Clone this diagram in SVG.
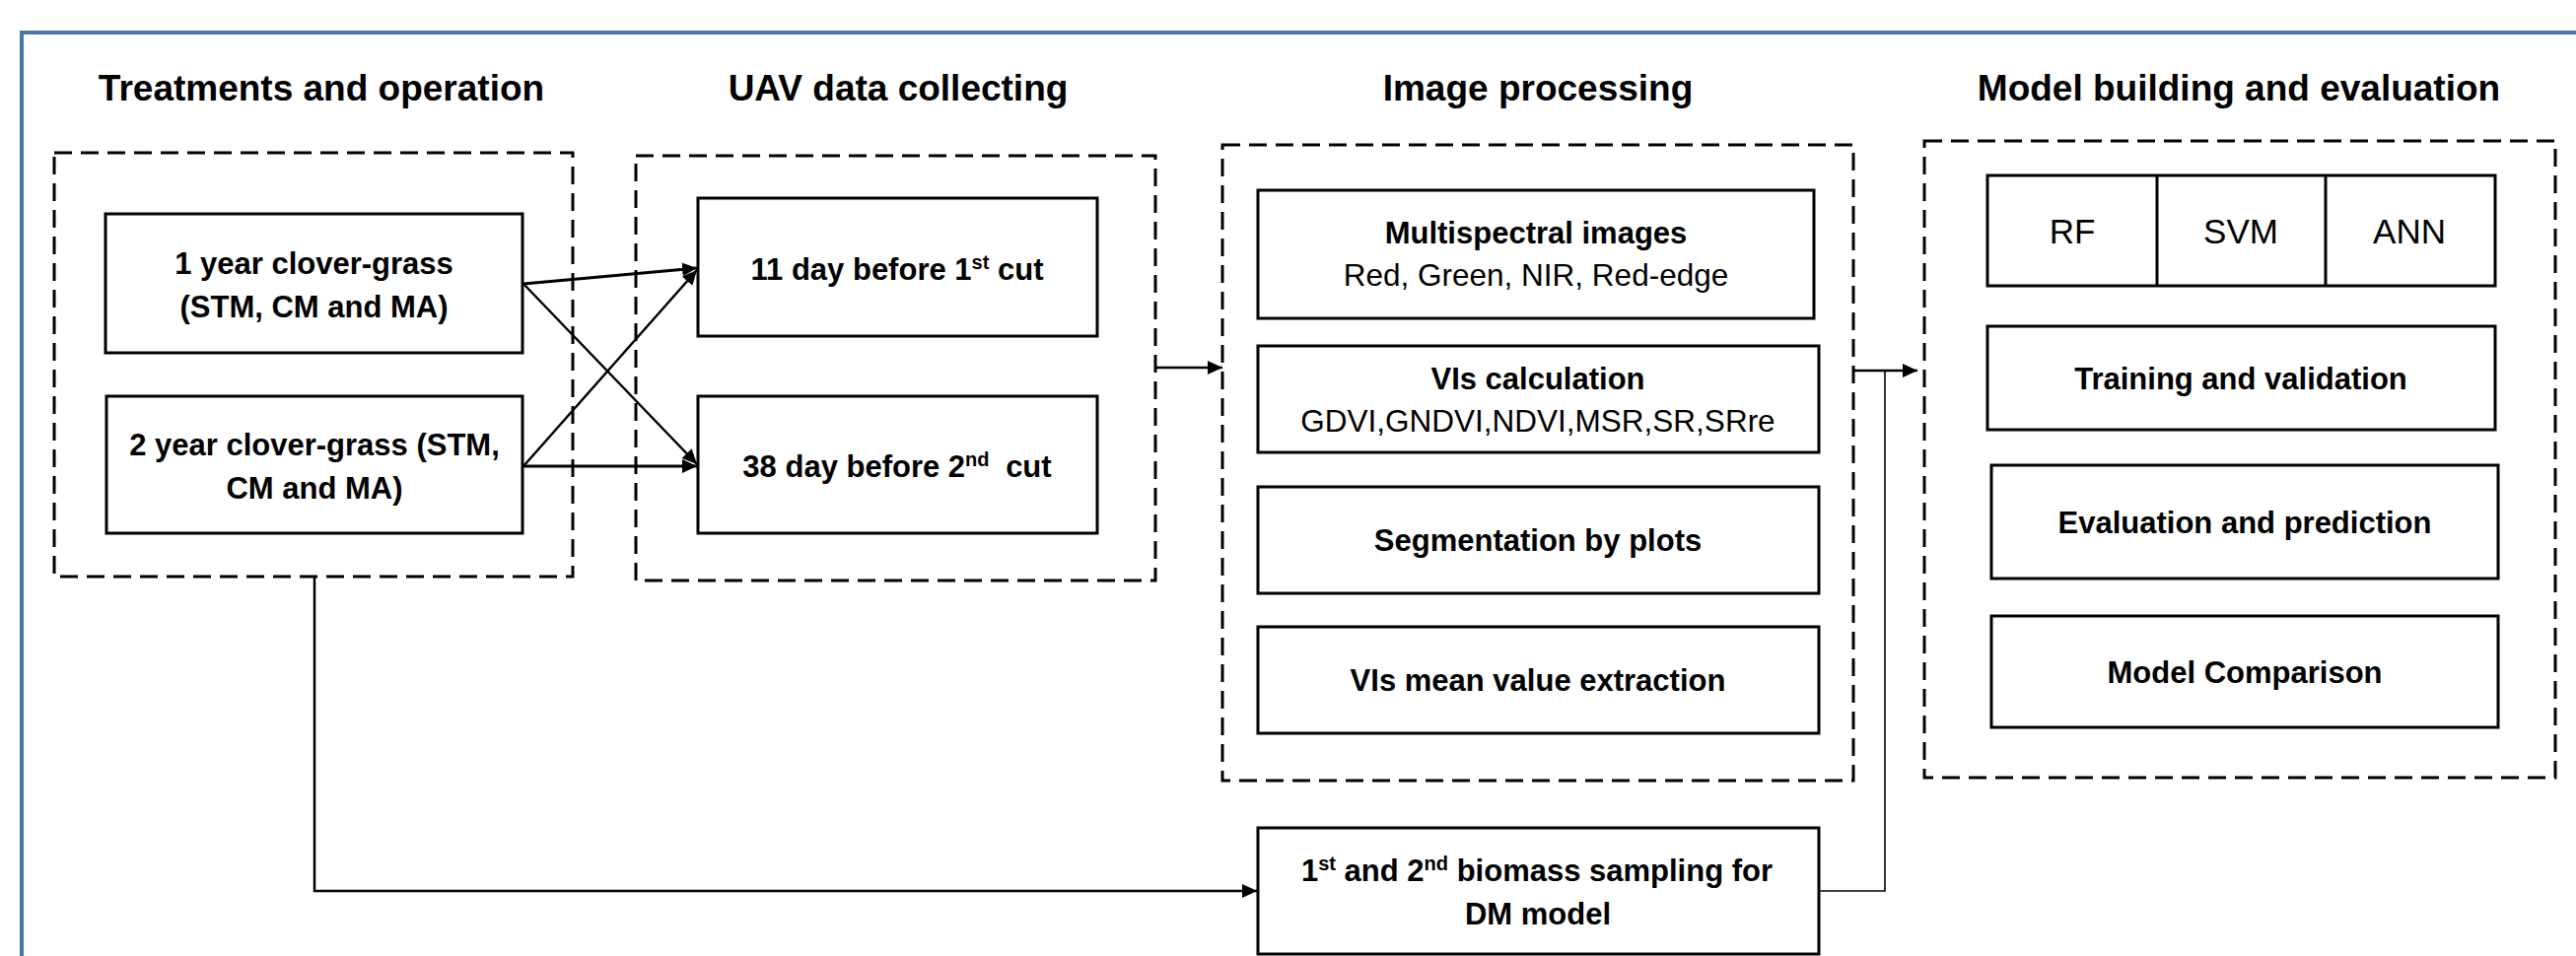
<svg xmlns="http://www.w3.org/2000/svg" width="2613" height="970" viewBox="0 0 2613 970">
  <style>
    .frame { fill: none; stroke: #4a77a8; stroke-width: 4; }
    .group { fill: none; stroke: #000; stroke-width: 3; stroke-dasharray: 18 9; }
    .box { fill: #fff; stroke: #000; stroke-width: 3; }
    .title { font-family: "Liberation Sans", Arial, sans-serif; font-weight: bold; font-size: 37px; text-anchor: middle; fill: #000; }
    .lbl { font-family: "Liberation Sans", Arial, sans-serif; font-weight: bold; font-size: 31px; text-anchor: middle; fill: #000; }
    .sub { font-family: "Liberation Sans", Arial, sans-serif; font-size: 31.5px; text-anchor: middle; fill: #000; }
    .alg { font-family: "Liberation Sans", Arial, sans-serif; font-size: 35px; text-anchor: middle; fill: #000; }
    .sup { font-size: 20px; }
    .link { fill: none; stroke: #000; stroke-width: 2.5; }
    .thick { stroke-width: 3; }
    .thin { stroke-width: 1.6; }
  </style>
  <defs>
    <marker id="arrow" markerUnits="userSpaceOnUse" markerWidth="16" markerHeight="16" refX="15" refY="7" orient="auto">
      <path d="M0,0 L15,7 L0,14 Z" fill="#000"/>
    </marker>
  </defs>

  <rect width="2613" height="970" fill="#fff"/>
  <!-- outer frame (open at right and bottom) -->
  <path class="frame" d="M22,975 V33 H2620"/>

  <!-- column headings -->
  <g id="headings">
    <text class="title" x="326" y="102">Treatments and operation</text>
    <text class="title" x="911" y="102">UAV data collecting</text>
    <text class="title" x="1560" y="102">Image processing</text>
    <text class="title" x="2271" y="102">Model building and evaluation</text>
  </g>

  <!-- dashed stage groups -->
  <g id="stage-treatments"><rect class="group" x="55" y="155" width="526" height="430"/></g>
  <g id="stage-uav"><rect class="group" x="645" y="158" width="527" height="431"/></g>
  <g id="stage-image"><rect class="group" x="1240" y="147" width="640" height="645"/></g>
  <g id="stage-model"><rect class="group" x="1952" y="143" width="640" height="646"/></g>

  <!-- treatments -->
  <g id="year1">
    <rect class="box" x="107" y="217" width="423" height="141"/>
    <text class="lbl" x="318.5" y="278">1 year clover-grass</text>
    <text class="lbl" x="318.5" y="322">(STM, CM and MA)</text>
  </g>
  <g id="year2">
    <rect class="box" x="108" y="402" width="422" height="139"/>
    <text class="lbl" x="319" y="462">2 year clover-grass (STM,</text>
    <text class="lbl" x="319" y="506">CM and MA)</text>
  </g>

  <!-- UAV flights -->
  <g id="flight1">
    <rect class="box" x="708" y="201" width="405" height="140"/>
    <text class="lbl" x="910" y="284">11 day before 1<tspan class="sup" dy="-11">st</tspan><tspan dy="11"> cut</tspan></text>
  </g>
  <g id="flight2">
    <rect class="box" x="708" y="402" width="405" height="139"/>
    <text class="lbl" x="910" y="484">38 day before 2<tspan class="sup" dy="-11">nd</tspan><tspan dy="11" dx="8"> cut</tspan></text>
  </g>

  <!-- image processing steps -->
  <g id="multispectral">
    <rect class="box" x="1276" y="193" width="564" height="130"/>
    <text class="lbl" x="1558" y="247">Multispectral images</text>
    <text class="sub" x="1558" y="290">Red, Green, NIR, Red-edge</text>
  </g>
  <g id="vi-calc">
    <rect class="box" x="1276" y="351" width="569" height="108"/>
    <text class="lbl" x="1560" y="395">VIs calculation</text>
    <text class="sub" x="1560" y="438">GDVI,GNDVI,NDVI,MSR,SR,SRre</text>
  </g>
  <g id="segmentation">
    <rect class="box" x="1276" y="494" width="569" height="108"/>
    <text class="lbl" x="1560" y="559">Segmentation by plots</text>
  </g>
  <g id="vi-extract">
    <rect class="box" x="1276" y="636" width="569" height="108"/>
    <text class="lbl" x="1560" y="701">VIs mean value extraction</text>
  </g>
  <g id="biomass">
    <rect class="box" x="1276" y="840" width="569" height="128"/>
    <text class="lbl" x="1559" y="894">1<tspan class="sup" dy="-11">st</tspan><tspan dy="11"> and 2</tspan><tspan class="sup" dy="-11">nd</tspan><tspan dy="11"> biomass sampling for</tspan></text>
    <text class="lbl" x="1560" y="938">DM model</text>
  </g>

  <!-- model building -->
  <g id="algorithms">
    <rect class="box" x="2016" y="178" width="515" height="112"/>
    <line x1="2188" y1="178" x2="2188" y2="290" stroke="#000" stroke-width="3"/>
    <line x1="2359" y1="178" x2="2359" y2="290" stroke="#000" stroke-width="3"/>
    <text class="alg" x="2102" y="247">RF</text>
    <text class="alg" x="2273" y="247">SVM</text>
    <text class="alg" x="2444" y="247">ANN</text>
  </g>
  <g id="training">
    <rect class="box" x="2016" y="331" width="515" height="105"/>
    <text class="lbl" x="2273" y="395">Training and validation</text>
  </g>
  <g id="evaluation">
    <rect class="box" x="2020" y="472" width="514" height="115"/>
    <text class="lbl" x="2277" y="541">Evaluation and prediction</text>
  </g>
  <g id="comparison">
    <rect class="box" x="2020" y="625" width="514" height="113"/>
    <text class="lbl" x="2277" y="693">Model Comparison</text>
  </g>

  <!-- connectors -->
  <g id="connectors">
    <path class="link thick" d="M531,288 L707,272" marker-end="url(#arrow)"/>
    <path class="link" d="M531,288 L707,471" marker-end="url(#arrow)"/>
    <path class="link" d="M531,473 L707,274" marker-end="url(#arrow)"/>
    <path class="link thick" d="M531,473 L707,473" marker-end="url(#arrow)"/>
    <path class="link" d="M1173,373 L1240,373" marker-end="url(#arrow)"/>
    <path class="link" d="M1880,376 L1945,376" marker-end="url(#arrow)"/>
    <path class="link" d="M319,585 V904 H1275" marker-end="url(#arrow)"/>
    <path class="link thin" d="M1845,904 H1912 V376"/>
  </g>
</svg>
